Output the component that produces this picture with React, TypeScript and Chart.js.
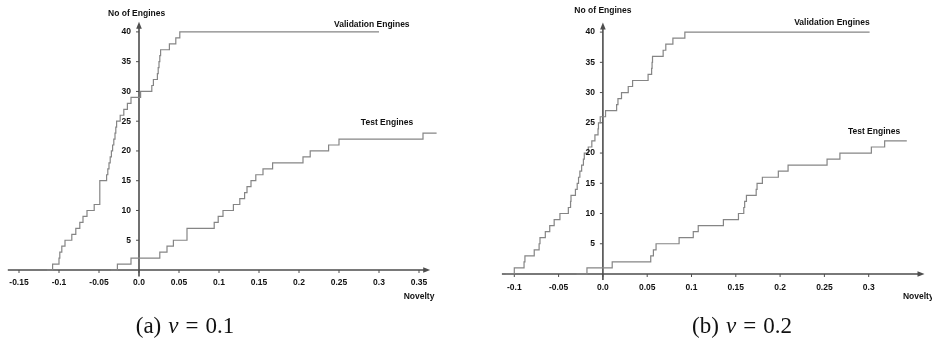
import React, { useEffect, useRef } from "react";
import { Chart, registerables } from "chart.js";

Chart.register(...registerables);

// ---------- Panel (a): nu = 0.1 ----------
const validationA_novelty = [
  -0.115, -0.108, -0.1, -0.099, -0.0965, -0.0925, -0.084, -0.079, -0.074, -0.07, -0.065,
  -0.056, -0.049, -0.049, -0.049, -0.049, -0.0405, -0.039, -0.0375, -0.036, -0.0345,
  -0.033, -0.0315, -0.03, -0.029, -0.028, -0.0235, -0.019, -0.0145, -0.01, 0.002, 0.016,
  0.018, 0.023, 0.024, 0.025, 0.026, 0.027, 0.038, 0.046, 0.051, 0.3,
];
const validationA_count = [
  0, 1, 2, 3, 4, 5, 6, 7, 8, 9, 10, 11, 12, 13, 14, 15, 16, 17, 18, 19, 20, 21, 22, 23, 24,
  25, 26, 27, 28, 29, 30, 31, 32, 33, 34, 35, 36, 37, 38, 39, 40, 40,
];
const testA_novelty = [
  -0.035, -0.027, -0.01, 0.026, 0.035, 0.043, 0.06, 0.06, 0.094, 0.099, 0.105, 0.118, 0.126,
  0.132, 0.135, 0.14, 0.146, 0.155, 0.167, 0.205, 0.214, 0.237, 0.25, 0.355, 0.372,
];
const testA_count = [
  0, 1, 2, 3, 4, 5, 6, 7, 8, 9, 10, 11, 12, 13, 14, 15, 16, 17, 18, 19, 20, 21, 22, 23, 23,
];

// ---------- Panel (b): nu = 0.2 ----------
const validationB_novelty = [
  -0.11, -0.1, -0.089, -0.088, -0.0775, -0.072, -0.071, -0.065, -0.06, -0.055, -0.0485,
  -0.039, -0.0365, -0.036, -0.031, -0.029, -0.0275, -0.026, -0.024, -0.022, -0.021, -0.0165,
  -0.0125, -0.009, -0.0055, -0.005, -0.003, 0.003, 0.0155, 0.017, 0.021, 0.0286, 0.0335,
  0.051, 0.055, 0.0555, 0.056, 0.068, 0.071, 0.079, 0.0925, 0.301,
];
const validationB_count = [
  0, 1, 2, 3, 4, 5, 6, 7, 8, 9, 10, 11, 12, 13, 14, 15, 16, 17, 18, 19, 20, 21, 22, 23, 24,
  25, 26, 27, 28, 29, 30, 31, 32, 33, 34, 35, 36, 37, 38, 39, 40, 40,
];
const testB_novelty = [
  -0.03, -0.018, 0.0105, 0.054, 0.057, 0.06, 0.086, 0.102, 0.1076, 0.136, 0.153, 0.159, 0.16,
  0.162, 0.173, 0.174, 0.18, 0.198, 0.209, 0.253, 0.2675, 0.303, 0.318, 0.343,
];
const testB_count = [
  0, 1, 2, 3, 4, 5, 6, 7, 8, 9, 10, 11, 12, 13, 14, 15, 16, 17, 18, 19, 20, 21, 22, 22,
];

// ---------- Ticks and labels ----------
const xTicksA = [-0.15, -0.1, -0.05, 0, 0.05, 0.1, 0.15, 0.2, 0.25, 0.3, 0.35];
const xTickLabelsA = ["-0.15", "-0.1", "-0.05", "0.0", "0.05", "0.1", "0.15", "0.2", "0.25", "0.3", "0.35"];
const xTicksB = [-0.1, -0.05, 0, 0.05, 0.1, 0.15, 0.2, 0.25, 0.3];
const xTickLabelsB = ["-0.1", "-0.05", "0.0", "0.05", "0.1", "0.15", "0.2", "0.25", "0.3"];
const yTicks = [5, 10, 15, 20, 25, 30, 35, 40];
const yTickLabels = ["5", "10", "15", "20", "25", "30", "35", "40"];
const seriesNames = ["Validation Engines", "Test Engines"];
const yAxisTitle = "No of Engines";
const xAxisTitle = "Novelty";
const captions = [
  { tag: "(a)", nu: "0.1" },
  { tag: "(b)", nu: "0.2" },
];

type Panel = {
  valX: number[];
  valN: number[];
  testX: number[];
  testN: number[];
  xTicks: number[];
  xLabels: string[];
  xMin: number;
  xMax: number;
  yMax: number;
  padding: { left: number; right: number; top: number; bottom: number };
  xAxisFrom: number;
  xAxisTo: number;
  yAxisFrom: number;
  yAxisTo: number;
  tickLabelGap: number;
  yTitle: [number, number];
  xTitle: [number, number, CanvasTextAlign];
  valLabel: [number, number];
  testLabel: [number, number];
};

const panelA: Panel = {
  valX: validationA_novelty,
  valN: validationA_count,
  testX: testA_novelty,
  testN: testA_count,
  xTicks: xTicksA,
  xLabels: xTickLabelsA,
  xMin: -0.17,
  xMax: 0.38,
  yMax: 42,
  padding: { left: 3, right: 23, top: 20, bottom: 74 },
  xAxisFrom: -0.164,
  xAxisTo: 0.364,
  yAxisFrom: -1.1,
  yAxisTo: 41.7,
  tickLabelGap: 13,
  yTitle: [-0.003, 43.0],
  xTitle: [0.35, -4.5, "center"],
  valLabel: [0.291, 41.2],
  testLabel: [0.31, 24.7],
};

const panelB: Panel = {
  valX: validationB_novelty,
  valN: validationB_count,
  testX: testB_novelty,
  testN: testB_count,
  xTicks: xTicksB,
  xLabels: xTickLabelsB,
  xMin: -0.15,
  xMax: 0.35,
  yMax: 42,
  padding: { left: 4, right: 19, top: 20, bottom: 70 },
  xAxisFrom: -0.114,
  xAxisTo: 0.363,
  yAxisFrom: -1.0,
  yAxisTo: 41.6,
  tickLabelGap: 13.7,
  yTitle: [0.0, 43.6],
  xTitle: [0.3386, -3.8, "left"],
  valLabel: [0.2585, 41.5],
  testLabel: [0.306, 23.5],
};

const FONT = "bold 8.5px 'Liberation Sans', Arial, sans-serif";
const AXIS_COLOR = "#4d4d4d";
const LINE_COLOR = "#858585";

function makePlugin(p: Panel) {
  return {
    id: "engineAxes",
    beforeDatasetsDraw(chart: any) {
      const { ctx } = chart;
      const xs = chart.scales.x;
      const ys = chart.scales.y;
      const y0 = ys.getPixelForValue(0);
      const x0 = xs.getPixelForValue(0);
      ctx.save();
      ctx.strokeStyle = AXIS_COLOR;
      ctx.fillStyle = AXIS_COLOR;
      ctx.lineWidth = 1.6;
      // x axis
      const xl = xs.getPixelForValue(p.xAxisFrom);
      const xr = xs.getPixelForValue(p.xAxisTo);
      ctx.beginPath();
      ctx.moveTo(xl, y0);
      ctx.lineTo(xr - 5, y0);
      ctx.stroke();
      ctx.beginPath();
      ctx.moveTo(xr, y0);
      ctx.lineTo(xr - 7, y0 - 2.8);
      ctx.lineTo(xr - 7, y0 + 2.8);
      ctx.closePath();
      ctx.fill();
      // y axis
      const yb = ys.getPixelForValue(p.yAxisFrom);
      const yt = ys.getPixelForValue(p.yAxisTo);
      ctx.beginPath();
      ctx.moveTo(x0, yb);
      ctx.lineTo(x0, yt + 5);
      ctx.stroke();
      ctx.beginPath();
      ctx.moveTo(x0, yt);
      ctx.lineTo(x0 - 2.8, yt + 7);
      ctx.lineTo(x0 + 2.8, yt + 7);
      ctx.closePath();
      ctx.fill();
      // tick marks
      ctx.lineWidth = 1;
      p.xTicks.forEach((t) => {
        const px = xs.getPixelForValue(t);
        ctx.beginPath();
        ctx.moveTo(px, y0);
        ctx.lineTo(px, y0 + 3);
        ctx.stroke();
      });
      yTicks.forEach((t) => {
        const py = ys.getPixelForValue(t);
        ctx.beginPath();
        ctx.moveTo(x0 - 3, py);
        ctx.lineTo(x0, py);
        ctx.stroke();
      });
      ctx.restore();
    },
    afterDraw(chart: any) {
      const { ctx } = chart;
      const xs = chart.scales.x;
      const ys = chart.scales.y;
      const y0 = ys.getPixelForValue(0);
      const x0 = xs.getPixelForValue(0);
      ctx.save();
      ctx.font = FONT;
      ctx.fillStyle = "#111";
      ctx.textBaseline = "middle";
      ctx.textAlign = "center";
      p.xTicks.forEach((t, i) => {
        ctx.fillText(p.xLabels[i], xs.getPixelForValue(t), y0 + p.tickLabelGap);
      });
      ctx.textAlign = "right";
      yTicks.forEach((t, i) => {
        ctx.fillText(yTickLabels[i], x0 - 8, ys.getPixelForValue(t));
      });
      ctx.textAlign = "center";
      ctx.fillText(yAxisTitle, xs.getPixelForValue(p.yTitle[0]), ys.getPixelForValue(p.yTitle[1]));
      ctx.textAlign = p.xTitle[2];
      ctx.fillText(xAxisTitle, xs.getPixelForValue(p.xTitle[0]), ys.getPixelForValue(p.xTitle[1]));
      ctx.textAlign = "center";
      ctx.fillText(seriesNames[0], xs.getPixelForValue(p.valLabel[0]), ys.getPixelForValue(p.valLabel[1]));
      ctx.fillText(seriesNames[1], xs.getPixelForValue(p.testLabel[0]), ys.getPixelForValue(p.testLabel[1]));
      ctx.restore();
    },
  };
}

function zip(xs: number[], ns: number[]) {
  return xs.map((x, i) => ({ x, y: ns[i] }));
}

function PanelChart({ panel }: { panel: Panel }) {
  const ref = useRef<HTMLCanvasElement | null>(null);
  useEffect(() => {
    if (!ref.current) return;
    const chart = new Chart(ref.current, {
      type: "line",
      data: {
        datasets: [
          {
            label: seriesNames[0],
            data: zip(panel.valX, panel.valN),
            stepped: true,
            borderColor: LINE_COLOR,
            borderWidth: 1.2,
            pointRadius: 0,
            fill: false,
            clip: false as any,
          },
          {
            label: seriesNames[1],
            data: zip(panel.testX, panel.testN),
            stepped: true,
            borderColor: LINE_COLOR,
            borderWidth: 1.2,
            pointRadius: 0,
            fill: false,
            clip: false as any,
          },
        ],
      },
      options: {
        animation: false,
        responsive: false,
        parsing: false as any,
        layout: { padding: panel.padding },
        plugins: { legend: { display: false }, title: { display: false }, tooltip: { enabled: false } },
        scales: {
          x: { type: "linear", min: panel.xMin, max: panel.xMax, display: false },
          y: { type: "linear", min: 0, max: panel.yMax, display: false },
        },
      },
      plugins: [makePlugin(panel)],
    });
    return () => chart.destroy();
  }, [panel]);
  return <canvas ref={ref} width={466} height={344} style={{ display: "block", width: 466, height: 344 }} />;
}

function Caption({ tag, nu, center }: { tag: string; nu: string; center: number }) {
  return (
    <div
      style={{
        position: "absolute",
        left: center - 150,
        width: 300,
        top: 312,
        textAlign: "center",
        fontFamily: "'Liberation Serif', 'DejaVu Serif', serif",
        fontSize: 23,
        lineHeight: "28px",
        color: "#111",
        whiteSpace: "nowrap",
      }}
    >
      {tag}
      <i style={{ marginLeft: 7 }}>ν</i>
      <span style={{ margin: "0 7px" }}>=</span>
      {nu}
    </div>
  );
}

export default function App() {
  return (
    <div style={{ position: "absolute", left: 0, top: 0, width: 932, height: 344, background: "#fff", overflow: "hidden" }}>
      <div style={{ position: "absolute", left: 0, top: 0 }}>
        <PanelChart panel={panelA} />
      </div>
      <div style={{ position: "absolute", left: 466, top: 0 }}>
        <PanelChart panel={panelB} />
      </div>
      <Caption tag={captions[0].tag} nu={captions[0].nu} center={185} />
      <Caption tag={captions[1].tag} nu={captions[1].nu} center={742} />
    </div>
  );
}
